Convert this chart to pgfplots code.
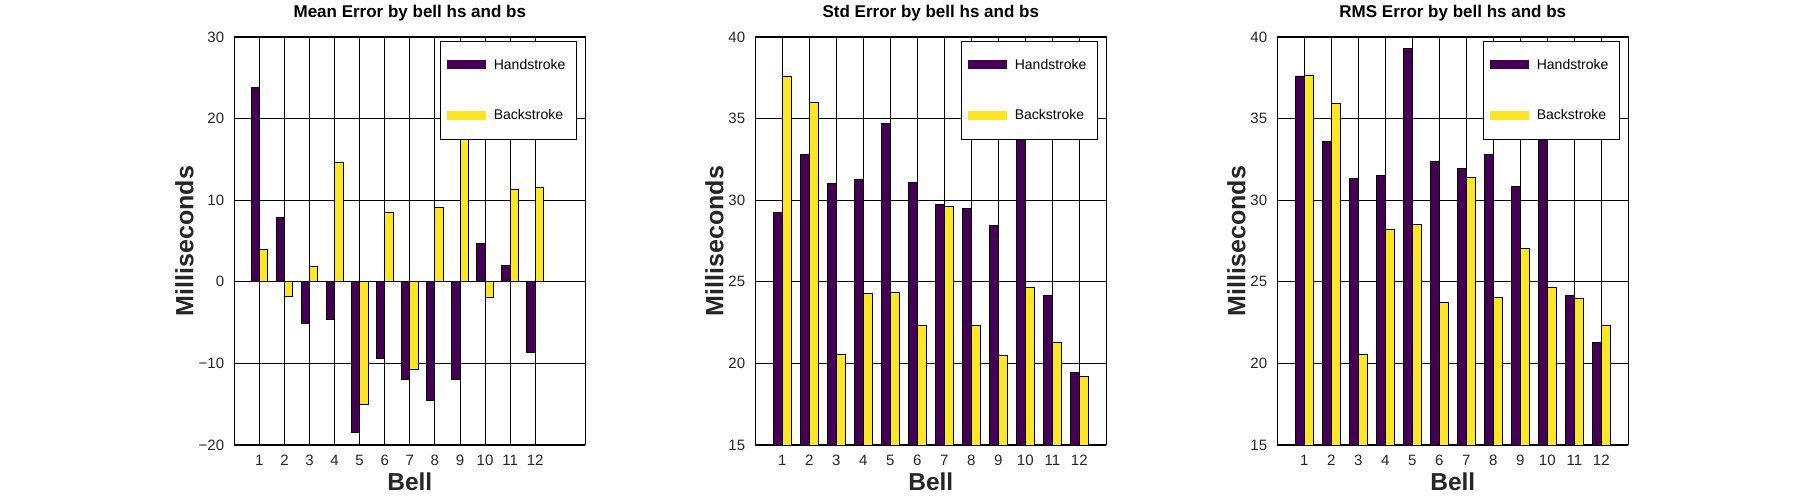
\documentclass[border=0pt]{standalone}
\usepackage{fontspec}
\setmainfont{Liberation Sans}
\usepackage{pgfplots}
\pgfplotsset{compat=1.18}
\definecolor{hs}{HTML}{440154}
\definecolor{bs}{HTML}{FDE725}
\definecolor{tk}{HTML}{262626}
\pgfplotsset{
  layers/mylayers/.define layer set={axis background,axis grid,axis descriptions,axis ticks,pre main,main,axis lines,axis tick labels,axis foreground}{},
  myax/.style={
    set layers=mylayers,
    scale only axis, width=351pt, height=408pt,
    anchor=south west,
    xmin=0,
    xtick={1,...,12},
    grid=major,
    grid style={black, line width=0.8pt},
    axis line style={black, line width=1pt},
    major tick length=0pt,
    /pgf/number format/assume math mode=true,
    tick label style={font=\fontsize{15}{15}\selectfont, text=tk, inner sep=0pt},
    xticklabel shift=10pt, yticklabel shift=10pt,
    title style={at={(0.5,1)}, anchor=base, yshift=13pt, font=\fontsize{17}{17}\selectfont\bfseries, inner sep=0pt},
    xlabel={Bell}, ylabel={Milliseconds},
    xlabel style={at={(axis description cs:0.5,0)}, anchor=base, yshift=-45.7pt, font=\fontsize{24.5}{24.5}\selectfont\bfseries, text=tk, inner sep=0pt},
    ybar, bar width=0.333,
    legend cell align=left,
    legend style={at={(0.977,0.991)}, anchor=north east, draw=black, line width=0.8pt, fill=white, inner xsep=7pt, inner ysep=18pt, row sep=39pt, column sep=8pt, font=\fontsize{14}{14}\selectfont, nodes={inner sep=0pt, text width=76pt}},
  },
  yl/.style={ylabel style={at={([xshift=-#1]axis description cs:0,0.5)}, anchor=base, font=\fontsize{25}{25}\selectfont\bfseries, text=tk, inner sep=0pt}},
  hsplot/.style={draw=black, line width=0.8pt, fill=hs, bar shift=-0.1667, legend image code/.code={\fill[hs] (0pt,-4pt) rectangle (38pt,4pt);}},
  bsplot/.style={draw=black, line width=0.8pt, fill=bs, bar shift=0.1667, legend image code/.code={\fill[bs] (0pt,-4pt) rectangle (38pt,4pt);}},
}
\begin{document}
\begin{tikzpicture}
\begin{axis}[myax, yl=41pt, at={(234.3pt,55pt)}, xmax=14, ymin=-20, ymax=30,
  ytick={-20,-10,0,10,20,30}, yticklabels={−20,−10,0,10,20,30},
  title={Mean Error by bell hs and bs}]
\addplot[hsplot] coordinates {(1,23.8) (2,7.85) (3,-5.15) (4,-4.58) (5,-18.5) (6,-9.36) (7,-12.0) (8,-14.5) (9,-12.0) (10,4.66) (11,1.96) (12,-8.7)};
\addplot[bsplot] coordinates {(1,3.92) (2,-1.84) (3,1.84) (4,14.6) (5,-15.0) (6,8.46) (7,-10.7) (8,9.08) (9,17.8) (10,-1.96) (11,11.3) (12,11.6)};
\legend{Handstroke,Backstroke}
\end{axis}
\begin{axis}[myax, yl=32pt, at={(755.3pt,55pt)}, xmax=13, ymin=15, ymax=40,
  ytick={15,20,25,30,35,40},
  title={Std Error by bell hs and bs}]
\addplot[hsplot] coordinates {(1,29.27) (2,32.83) (3,31.05) (4,31.29) (5,34.73) (6,31.11) (7,29.76) (8,29.51) (9,28.47) (10,36.36) (11,24.18) (12,19.46)};
\addplot[bsplot] coordinates {(1,37.61) (2,36.01) (3,20.56) (4,24.30) (5,24.36) (6,22.34) (7,29.64) (8,22.34) (9,20.50) (10,24.67) (11,21.30) (12,19.21)};
\legend{Handstroke,Backstroke}
\end{axis}
\begin{axis}[myax, yl=32pt, at={(1277.3pt,55pt)}, xmax=13, ymin=15, ymax=40,
  ytick={15,20,25,30,35,40},
  title={RMS Error by bell hs and bs}]
\addplot[hsplot] coordinates {(1,37.61) (2,33.62) (3,31.35) (4,31.50) (5,39.28) (6,32.40) (7,31.97) (8,32.83) (9,30.86) (10,36.57) (11,24.18) (12,21.30)};
\addplot[bsplot] coordinates {(1,37.67) (2,35.95) (3,20.56) (4,28.23) (5,28.53) (6,23.75) (7,31.41) (8,24.06) (9,27.06) (10,24.67) (11,23.99) (12,22.34)};
\legend{Handstroke,Backstroke}
\end{axis}
\pgfresetboundingbox
\path[use as bounding box] (0,0) rectangle (1800pt,500pt);
\end{tikzpicture}
\end{document}
